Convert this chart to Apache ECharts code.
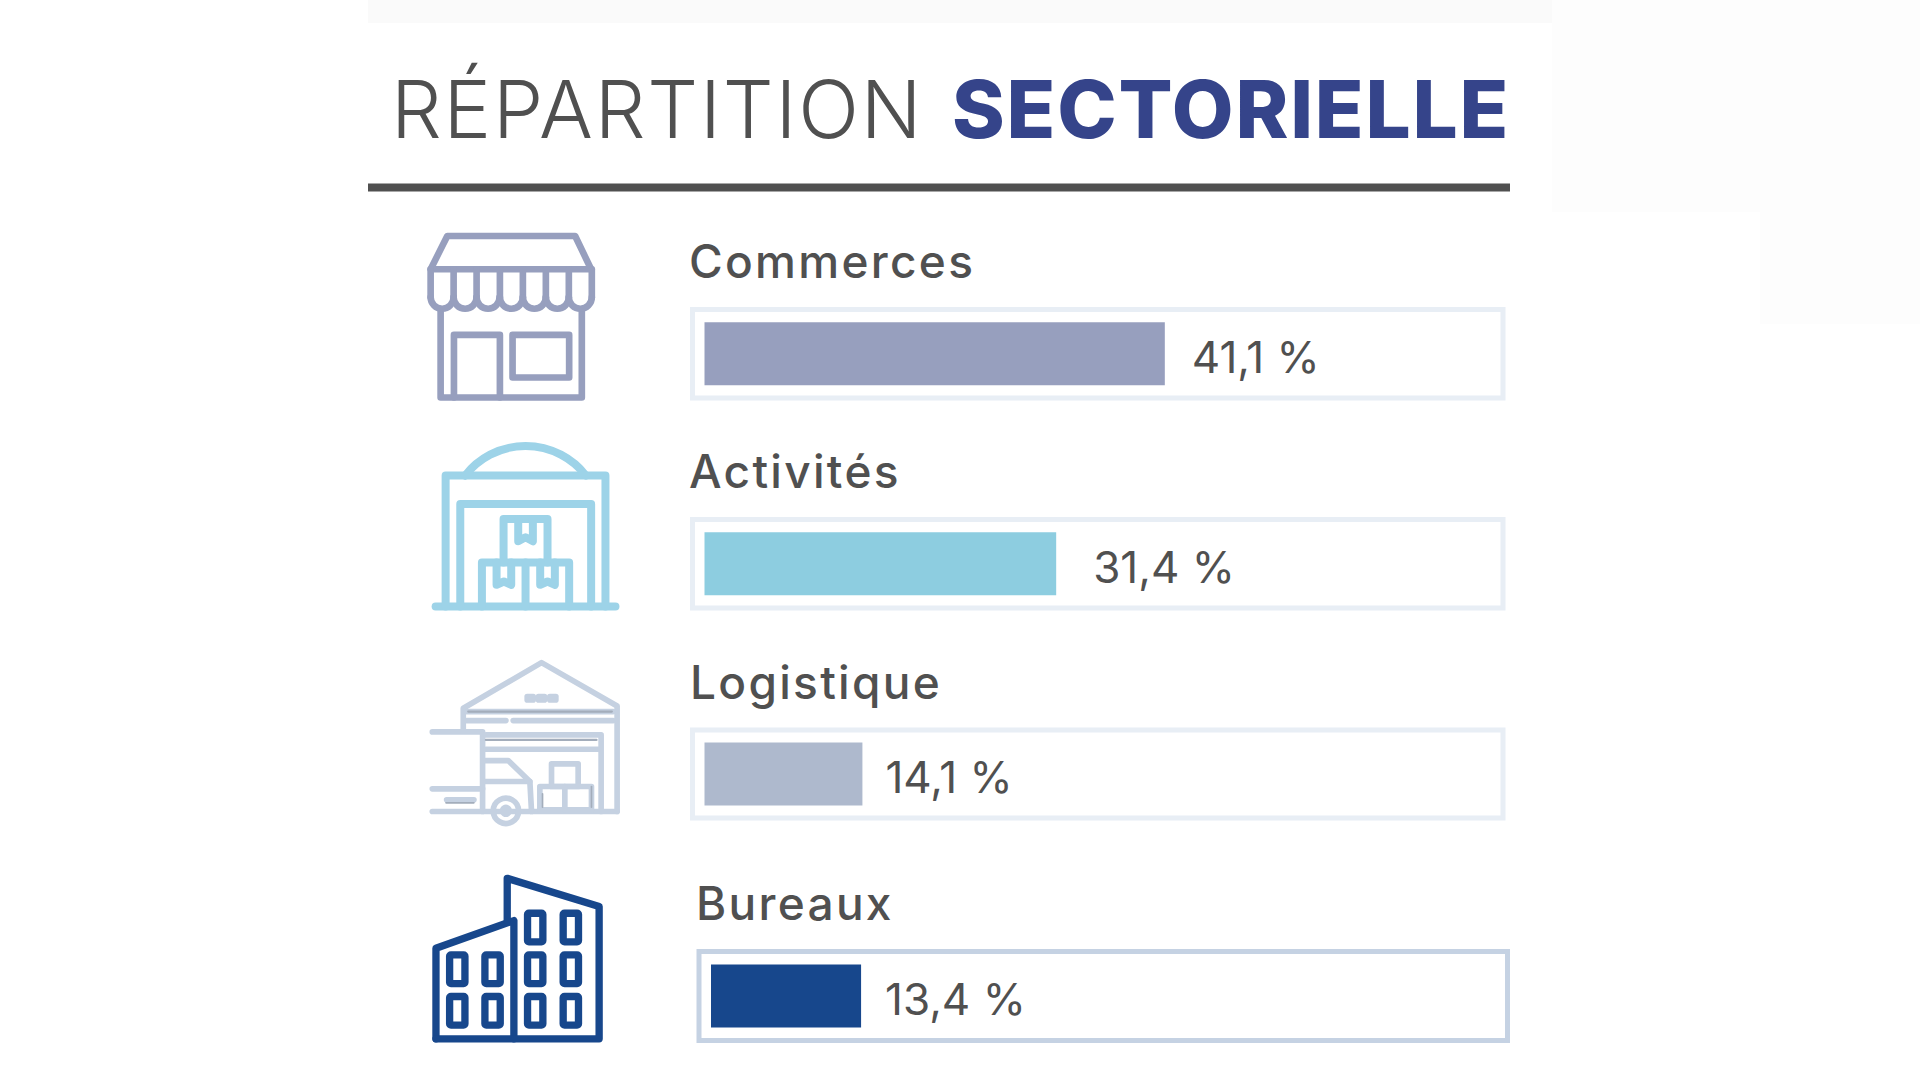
<!DOCTYPE html>
<html>
<head>
<meta charset="utf-8">
<title>Répartition sectorielle</title>
<style>
html, body { margin: 0; padding: 0; background: #fff; }
#main { width: 1920px; height: 1080px; }
/* Montserrat is not installed: Inter spaced out to the same widths */
#main text[style*="80px"] { letter-spacing: 1.8px; }
#main text[style*="46px"] { letter-spacing: 2.3px; }
</style>
<script src="https://cdn.jsdelivr.net/npm/echarts@6/dist/echarts.min.js"></script>
</head>
<body>
<div id="main"></div>
<script>
var categories = ['Commerces', 'Activités', 'Logistique', 'Bureaux'];
var values = [41.1, 31.4, 14.1, 13.4];
var barColors = ['#979fbe', '#8dcde0', '#aeb9cd', '#17478c'];
var trackColors = ['#e8eef5', '#e8eef5', '#e8eef5', '#c5d2e3'];

var GREY = '#505050';
var FONT = 'Inter';
var pxPerPoint = 11.2;

// track rectangles (centre of the border), one grid per row
var trackLeft = [692.5, 692.5, 692.5, 699];
var trackRight = [1503, 1503, 1503, 1507.5];
var trackTop = [309.5, 519.5, 730, 951.5];
var trackBottom = [398, 608, 818, 1040.5];
var barStart = [704.5, 704.5, 704.5, 711];
var labelGap = [27, 37, 23, 24];
var nameX = [689, 689, 690, 696];
var nameY = [238, 448, 659, 880];

function grids() {
    return categories.map(function (c, i) {
        return {
            show: true, backgroundColor: '#fff', borderColor: trackColors[i], borderWidth: 5,
            left: trackLeft[i], top: trackTop[i],
            width: trackRight[i] - trackLeft[i], height: trackBottom[i] - trackTop[i]
        };
    });
}
function xAxes() {
    return categories.map(function (c, i) {
        var min = -(barStart[i] - trackLeft[i]) / pxPerPoint;
        return { type: 'value', gridIndex: i, show: false, min: min, max: min + (trackRight[i] - trackLeft[i]) / pxPerPoint };
    });
}
function yAxes() {
    return categories.map(function (c, i) {
        return { type: 'category', gridIndex: i, show: false, data: [c] };
    });
}
function bars() {
    return categories.map(function (c, i) {
        return {
            name: c, type: 'bar', xAxisIndex: i, yAxisIndex: i, barWidth: 63, silent: true,
            data: [values[i]],
            itemStyle: { color: barColors[i] },
            label: {
                show: true, position: 'right', distance: labelGap[i], offset: [0, 3],
                color: GREY, fontFamily: FONT, fontSize: 44, fontWeight: 400,
                formatter: function (p) { return p.value.toFixed(1).replace('.', ',') + ' %'; }
            }
        };
    });
}
function titles() {
    var list = [
        { text: 'RÉPARTITION', left: 386, top: 63, textStyle: { color: GREY, fontFamily: FONT, fontSize: 80, fontWeight: 300 } },
        { text: 'SECTORIELLE', left: 947, top: 63, textStyle: { color: '#35448a', fontFamily: FONT, fontSize: 80, fontWeight: 800 } }
    ];
    categories.forEach(function (c, i) {
        list.push({ text: c, left: nameX[i], top: nameY[i], padding: 0, textStyle: { color: GREY, fontFamily: FONT, fontSize: 46, fontWeight: 500 } });
    });
    return list;
}

// icons are drawn in a 3x local space and scaled down
function line(pts, color, width) { return { type: 'polyline', shape: { points: pts }, color: color, width: width }; }
function box(x, y, w, h, r) { return { type: 'rect', shape: { x: x, y: y, width: w, height: h, r: r || 0 } }; }
function arc(cx, cy, r, a, b) { return { type: 'arc', shape: { cx: cx, cy: cy, r: r, startAngle: a, endAngle: b, clockwise: true } }; }
function circle(cx, cy, r) { return { type: 'circle', shape: { cx: cx, cy: cy, r: r } }; }
function icon(x, y, color, width, parts) {
    return {
        type: 'group', x: x, y: y, scaleX: 1 / 3, scaleY: 1 / 3, silent: true,
        children: parts.map(function (p) {
            return {
                type: p.type, shape: p.shape,
                style: { stroke: p.color || color, lineWidth: p.width || width, fill: null, lineJoin: 'round', lineCap: 'round' }
            };
        })
    };
}

function shopIcon() {
    var parts = [
        line([[92, 178], [142, 78], [526, 78], [574, 178], [92, 178]]),
        line([[122, 300], [122, 563], [546, 563], [546, 300]]),
        line([[162, 563], [162, 375], [300, 375], [300, 563]]),
        box(338, 375, 170, 128)
    ];
    [92, 161, 230, 300, 369, 438, 507].forEach(function (x) {
        var r = 34.5;
        parts.push(line([[x, 178], [x, 262]]));
        parts.push(arc(x + r, 262, r, 0, Math.PI));
    });
    parts.push(line([[576, 178], [576, 262]]));
    return icon(400, 210, barColors[0], 20, parts);
}
function depotIcon() {
    return icon(400, 420, '#9dd3e8', 24, [
        line([[107, 560], [647, 560]]),
        line([[137, 560], [137, 167], [617, 167], [617, 560]]),
        arc(377, 307.6, 229.6, 3.8, 5.624),
        line([[181, 560], [181, 252], [574, 252], [574, 560]]),
        line([[311, 428], [311, 297], [443, 297], [443, 428]]),
        line([[355, 297], [355, 364], [377, 352], [399, 364], [399, 297]]),
        line([[246, 560], [246, 428], [508, 428], [508, 560]]),
        line([[377, 428], [377, 560]]),
        line([[290, 428], [290, 495], [312, 485], [334, 495], [334, 428]]),
        line([[421, 428], [421, 495], [443, 485], [465, 495], [465, 428]])
    ]);
}
function logisticsIcon() {
    var detail = '#a3adbb';
    return icon(400, 640, '#c5d1e1', 17, [
        line([[190, 272], [190, 205], [425, 68], [652, 198], [652, 515]]),
        line([[200, 215], [640, 215]]),
        line([[200, 242], [318, 242]]),
        line([[340, 242], [640, 242]]),
        line([[97, 276], [248, 276], [248, 515]]),
        line([[258, 285], [604, 285], [604, 515]]),
        line([[258, 328], [596, 328]]),
        line([[97, 515], [652, 515]]),
        line([[255, 362], [325, 362], [390, 425], [395, 515]]),
        line([[255, 425], [390, 425]]),
        line([[97, 447], [248, 447]]),
        line([[140, 480], [222, 480]]),
        circle(318, 513, 38),
        circle(318, 513, 10),
        box(455, 372, 80, 68),
        box(420, 440, 155, 70),
        line([[495, 440], [495, 510]]),
        box(382, 170, 18, 10),
        box(416, 170, 18, 10),
        box(450, 170, 18, 10),
        line([[205, 215], [636, 215]], detail, 7),
        line([[258, 300], [590, 300]], detail, 7),
        line([[138, 489], [222, 489]], detail, 5),
        line([[428, 462], [428, 502]], detail, 5),
        line([[575, 440], [575, 502]], detail, 5)
    ]);
}
function officeIcon() {
    var parts = [
        line([[108, 537], [108, 265], [342, 182], [342, 537]]),
        line([[322, 182], [322, 55], [598, 140], [598, 537], [108, 537]])
    ];
    [[149, 285], [255, 285], [149, 410], [255, 410],
     [383, 160], [490, 160], [383, 285], [490, 285], [383, 410], [490, 410]].forEach(function (w) {
        parts.push(box(w[0], w[1], 46, 86, 4));
    });
    return icon(400, 860, barColors[3], 22, parts);
}

var chart = echarts.init(document.getElementById('main'), null, { renderer: 'svg' });
chart.setOption({
    backgroundColor: '#fff',
    animation: false,
    title: titles(),
    grid: grids(),
    xAxis: xAxes(),
    yAxis: yAxes(),
    series: bars(),
    graphic: [
        { type: 'rect', silent: true, shape: { x: 368, y: 0, width: 1184, height: 23 }, style: { fill: '#fafafa' } },
        { type: 'rect', silent: true, shape: { x: 1552, y: 0, width: 368, height: 212 }, style: { fill: '#fdfdfd' } },
        { type: 'rect', silent: true, shape: { x: 1760, y: 212, width: 160, height: 112 }, style: { fill: '#fdfdfd' } },
        { type: 'rect', silent: true, shape: { x: 368, y: 183.5, width: 1142, height: 8 }, style: { fill: GREY } },
        shopIcon(),
        depotIcon(),
        logisticsIcon(),
        officeIcon()
    ]
});
</script>
</body>
</html>
